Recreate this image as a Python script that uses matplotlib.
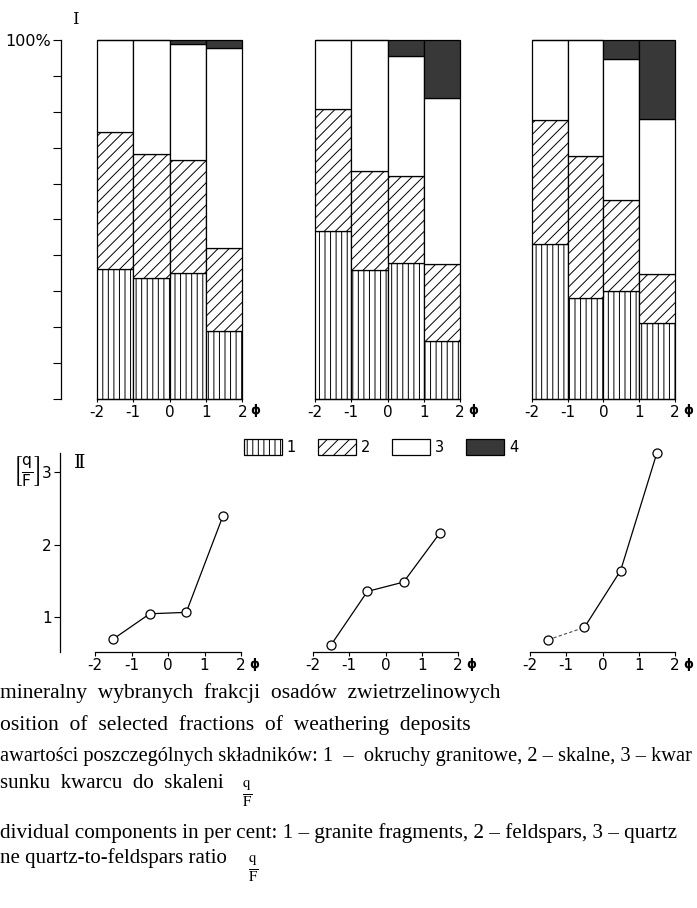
import matplotlib
matplotlib.use('Agg')
import matplotlib.pyplot as plt
from matplotlib.patches import Patch
import numpy as np

# ---------------- data ----------------
phi_left = [-2, -1, 0, 1]          # left edge of each grain-size class (phi)
phi_mid = [-1.5, -0.5, 0.5, 1.5]   # class mid points (phi)
phi_ticks = [-2, -1, 0, 1, 2]
phi_ticklabels = ['-2', '-1', '0', '1', '2']

# percent content of components, one row per profile (3 profiles), one value per class
granite_fragments = [[36.1, 33.6, 35.0, 18.9],
                     [46.9, 36.0, 38.0, 16.2],
                     [43.1, 28.1, 30.1, 21.2]]
feldspars = [[38.2, 34.6, 31.6, 23.3],
             [33.8, 27.4, 24.0, 21.5],
             [34.7, 39.5, 25.2, 13.5]]
quartz = [[25.7, 31.8, 32.2, 55.7],
          [19.3, 36.6, 33.6, 46.1],
          [22.2, 32.4, 39.3, 43.4]]
component4 = [[0.0, 0.0, 1.2, 2.1],
              [0.0, 0.0, 4.4, 16.2],
              [0.0, 0.0, 5.4, 21.9]]

# quartz-to-feldspars ratio q/F
qf_ratio = [[0.69, 1.04, 1.06, 2.39],
            [0.61, 1.35, 1.48, 2.16],
            [0.68, 0.85, 1.64, 3.27]]

pct_ticks = list(range(0, 101, 10))
pct_labels = [''] * 10 + ['100%']
ratio_ticks = [1, 2, 3]
legend_labels = ['1', '2', '3', '4']

caption_lines = [
    "mineralny  wybranych  frakcji  osadów  zwietrzelinowych",
    "osition  of  selected  fractions  of  weathering  deposits",
    "awartości poszczególnych składników: 1  –  okruchy granitowe, 2 – skalne, 3 – kwar",
    "sunku  kwarcu  do  skaleni",
    "dividual components in per cent: 1 – granite fragments, 2 – feldspars, 3 – quartz",
    "ne quartz-to-feldspars ratio",
]

# ---------------- figure ----------------
W, H = 697, 908
fig = plt.figure(figsize=(W / 100, H / 100), dpi=100)
plt.rcParams['hatch.linewidth'] = 0.7
plt.rcParams['font.family'] = ['DejaVu Sans']


def ax_px(x0, x1, ytop, ybot):
    return fig.add_axes([x0 / W, 1 - ybot / H, (x1 - x0) / W, (ybot - ytop) / H])


top_x = [(96.7, 242.3), (315, 460), (531.7, 675)]
bot_x = [(95, 241), (313, 458), (530, 675)]

styles = [dict(facecolor='white', hatch='|||'),
          dict(facecolor='white', hatch='///'),
          dict(facecolor='white', hatch=None),
          dict(facecolor='#383838', hatch=None)]

tick_fs = 11

for i in range(3):
    ax = ax_px(top_x[i][0], top_x[i][1], 40, 399)
    bottom = np.zeros(4)
    for comp, st in zip([granite_fragments, feldspars, quartz, component4], styles):
        vals = np.array(comp[i])
        bars = ax.bar(phi_left, vals, width=1, bottom=bottom, align='edge',
                      edgecolor='black', linewidth=0.9, **st)
        for b in bars:
            b.set_clip_on(False)
        bottom += vals
    ax.set_xlim(-2, 2)
    ax.set_ylim(0, 100)
    for s in ['top', 'right']:
        ax.spines[s].set_visible(False)
    ax.spines['bottom'].set_linewidth(0.9)
    ax.set_xticks(phi_ticks)
    ax.set_xticklabels(phi_ticklabels, fontsize=tick_fs)
    ax.tick_params(axis='x', direction='out', length=2.5, width=0.8, pad=1.5)
    ax.annotate('ϕ', xy=(2, 0), xycoords=ax.get_xaxis_transform(),
                xytext=(6, -3.5), textcoords='offset points', ha='left', va='top',
                fontsize=9, fontweight='bold')
    if i == 0:
        ax.spines['left'].set_position(('outward', 25.7))
        ax.spines['left'].set_linewidth(0.9)
        ax.set_yticks(pct_ticks)
        ax.set_yticklabels(pct_labels, fontsize=tick_fs + 0.5)
        ax.tick_params(axis='y', direction='out', length=5.5, width=0.8, pad=2)
    else:
        ax.spines['left'].set_visible(False)
        ax.set_yticks([])

    bx = ax_px(bot_x[i][0], bot_x[i][1], 453, 652)
    y = qf_ratio[i]
    if i == 2:
        bx.plot(phi_mid[:2], y[:2], color='black', lw=0.8, ls=(0, (3, 2)), alpha=0.7)
        bx.plot(phi_mid[1:], y[1:], color='black', lw=0.9)
    else:
        bx.plot(phi_mid, y, color='black', lw=0.9)
    bx.plot(phi_mid, y, ls='none', marker='o', ms=6.5, mfc='white', mec='black', mew=0.9,
            clip_on=False)
    bx.set_xlim(-2, 2)
    bx.set_ylim(0.51, 3.27)
    for s in ['top', 'right']:
        bx.spines[s].set_visible(False)
    bx.spines['bottom'].set_linewidth(0.9)
    bx.set_xticks(phi_ticks)
    bx.set_xticklabels(phi_ticklabels, fontsize=tick_fs)
    bx.tick_params(axis='x', direction='out', length=3, width=0.8, pad=1.5)
    bx.annotate('ϕ', xy=(2, 0), xycoords=bx.get_xaxis_transform(),
                xytext=(6, -4), textcoords='offset points', ha='left', va='top',
                fontsize=9, fontweight='bold')
    if i == 0:
        bx.spines['left'].set_position(('outward', 25.2))
        bx.spines['left'].set_linewidth(0.9)
        bx.set_yticks(ratio_ticks)
        bx.set_yticklabels([str(t) for t in ratio_ticks], fontsize=tick_fs)
        bx.tick_params(axis='y', direction='out', length=4, width=0.8, pad=2)
    else:
        bx.spines['left'].set_visible(False)
        bx.set_yticks([])

# roman numerals and y label
fig.text(75 / W, 1 - 19 / H, 'Ⅰ', ha='center', va='center', fontsize=12,
         family=['DejaVu Serif', 'DejaVu Sans'])
fig.text(80 / W, 1 - 463 / H, 'Ⅱ', ha='center', va='center', fontsize=14,
         family=['DejaVu Serif', 'DejaVu Sans'])
fig.text(26 / W, 1 - 471 / H, r'$\left[\frac{\mathsf{q}}{\mathsf{F}}\right]$', ha='center',
         va='center', fontsize=16)

# legend
handles = [Patch(edgecolor='black', linewidth=0.9, label=lab, **st)
           for lab, st in zip(legend_labels, styles)]
fig.legend(handles=handles, loc='center', bbox_to_anchor=(381 / W, 1 - 447 / H), ncol=4,
           frameon=False, handlelength=2.6, handleheight=1.4, handletextpad=0.35,
           columnspacing=1.5, fontsize=10.5)

# caption
cap_y = [693, 725, 757, 783, 833, 858]
cap_fs = [15.5, 15.5, 14.7, 15, 15.2, 15]
for txt, yy, fs in zip(caption_lines, cap_y, cap_fs):
    fig.text(0 / W, 1 - yy / H, txt, ha='left', va='center', fontsize=fs,
             family='Liberation Serif')
fig.text(247 / W, 1 - 794 / H, r'$\frac{\mathrm{q}}{\mathrm{F}}$', ha='center', va='center',
         fontsize=15, math_fontfamily='stix')
fig.text(253 / W, 1 - 869 / H, r'$\frac{\mathrm{q}}{\mathrm{F}}$', ha='center', va='center',
         fontsize=15, math_fontfamily='stix')

fig.savefig('out.png', dpi=100)
